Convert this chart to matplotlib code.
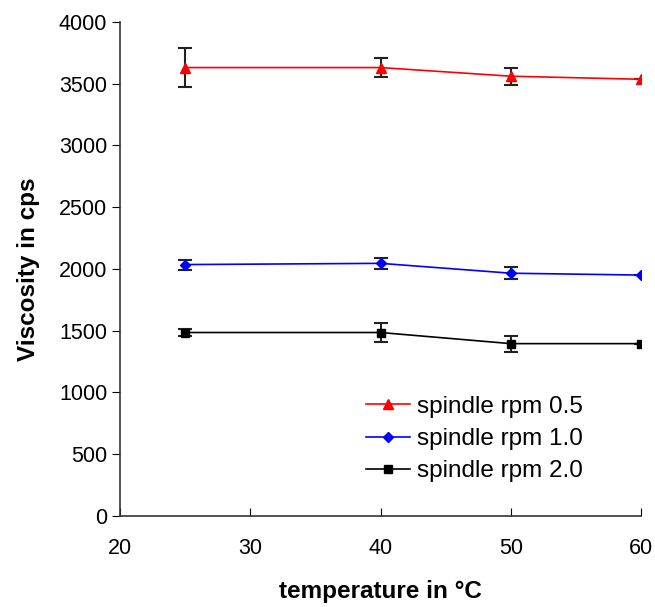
import matplotlib.pyplot as plt

plt.rcParams['font.family'] = ['Liberation Sans', 'DejaVu Sans']

temps = [25, 40, 50, 60]
rpm05 = [3630, 3630, 3560, 3535]
rpm05_err = [155, 80, 70, 0]
rpm10 = [2035, 2045, 1965, 1950]
rpm10_err = [40, 45, 50, 0]
rpm20 = [1485, 1485, 1395, 1395]
rpm20_err = [25, 80, 65, 0]

fig = plt.figure(figsize=(6.55, 6.07), dpi=100)
ax = fig.add_axes([0.183, 0.150, 0.796, 0.814])

series = [
    (rpm05, rpm05_err, 'red', '^', 7, 'spindle rpm 0.5'),
    (rpm10, rpm10_err, 'blue', 'D', 5, 'spindle rpm 1.0'),
    (rpm20, rpm20_err, 'black', 's', 6, 'spindle rpm 2.0'),
]
for vals, errs, col, mk, ms, lab in series:
    ax.errorbar(temps, vals, yerr=errs, fmt='none', ecolor='#222222',
                elinewidth=1.5, capsize=5, capthick=1.5)
    ax.plot(temps, vals, color=col, marker=mk, markersize=ms, linewidth=1.2, label=lab)

ax.set_xlim(20, 60)
ax.set_ylim(0, 4000)
ax.set_xticks([20, 30, 40, 50, 60])
ax.set_yticks(range(0, 4001, 500))
ax.tick_params(axis='x', direction='in', length=6, labelsize=15.5, pad=16)
ax.tick_params(axis='y', direction='out', length=6, labelsize=15.5, pad=3)
ax.spines['top'].set_visible(False)
ax.spines['right'].set_visible(False)
for s in ['left', 'bottom']:
    ax.spines[s].set_linewidth(1.2)
    ax.spines[s].set_color('#333333')

ax.set_xlabel('temperature in °C', fontsize=17.5, fontweight='bold', labelpad=15)
ax.set_ylabel('Viscosity in cps', fontsize=17.5, fontweight='bold', labelpad=14)

ax.legend(loc='upper left', bbox_to_anchor=(0.472, 0.243), frameon=False, fontsize=17.5,
          handlelength=1.8, labelspacing=0.42, handletextpad=0.3,
          borderpad=0, borderaxespad=0)

fig.savefig('out.png', dpi=100)
